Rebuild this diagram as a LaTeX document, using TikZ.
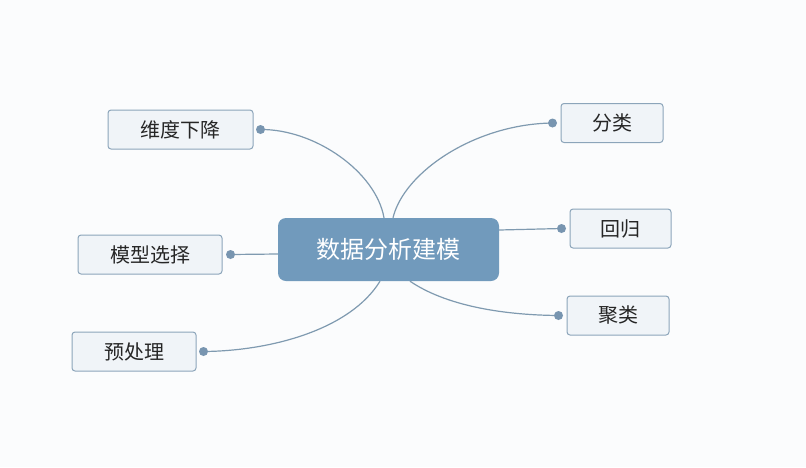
\documentclass[tikz,border=0pt]{standalone}
\usepackage{fontspec}
\newfontfamily\cjk{Noto Sans CJK SC}
\usetikzlibrary{calc}
\definecolor{bgc}{HTML}{FBFCFD}
\definecolor{mainfill}{HTML}{719ABC}
\definecolor{leaffill}{HTML}{F0F4F8}
\definecolor{leafdraw}{HTML}{8CA5BA}
\definecolor{linec}{HTML}{7F9AB0}
\definecolor{dotc}{HTML}{7895B0}
\tikzset{
  mainbox/.style={rectangle, rounded corners=8pt, fill=mainfill, text=white,
    minimum width=221pt, minimum height=63pt, inner sep=0pt, font=\cjk\fontsize{24}{27}\selectfont},
  leafbox/.style={rectangle, rounded corners=3pt, fill=leaffill, draw=leafdraw, line width=1pt,
    minimum height=39pt, inner sep=0pt, text=black!85, font=\cjk\fontsize{20}{23}\selectfont},
  dotnode/.style={circle, fill=dotc, minimum size=9pt, inner sep=0pt},
  conn/.style={draw=linec, line width=1.2pt}
}
\begin{document}
\begin{tikzpicture}[x=1pt,y=-1pt]
\fill[bgc] (0,0) rectangle (806,467);
\useasboundingbox (0,0) rectangle (806,467);

\node[mainbox] (c) at (388.5,249.5) {数据分析建模};

\node[leafbox, minimum width=145pt] (l1) at (180.5,129.5) {维度下降};
\node[leafbox, minimum width=144pt] (l2) at (150,254.5) {模型选择};
\node[leafbox, minimum width=124pt] (l3) at (134,351.5) {预处理};
\node[leafbox, minimum width=102pt] (r1) at (612,123) {分类};
\node[leafbox, minimum width=101pt] (r2) at (620.5,228.5) {回归};
\node[leafbox, minimum width=102pt] (r3) at (618,315.5) {聚类};

\coordinate (t1) at ([xshift=-4.5pt]c.north);
\coordinate (t2) at ([xshift=4.5pt]c.north);
\coordinate (b1) at ([xshift=-8.5pt]c.south);
\coordinate (b2) at ([xshift=21.5pt]c.south);
\coordinate (e1) at ([yshift=19.5pt]c.east);
\coordinate (w1) at ([yshift=-4.5pt]c.west);

\path (l1.east) ++(7,0) coordinate (d1);
\path (l2.east) ++(8,0) coordinate (d2);
\path (l3.east) ++(7,0) coordinate (d3);
\path (r1.west) ++(-8,0) coordinate (d4);
\path (r2.west) ++(-8,0) coordinate (d5);
\path (r3.west) ++(-8,0) coordinate (d6);

\draw[conn] (d1) .. controls (315,129) and (376,172) .. (t1);
\draw[conn] (t2) .. controls (404,172) and (475,124) .. (d4);
\draw[conn] (e1) -- (d5);
\draw[conn] (w1) -- (d2);
\draw[conn] (b1) .. controls (350,330) and (270,351) .. (d3);
\draw[conn] (b2) .. controls (445,305) and (500,315) .. (d6);

\foreach \d in {d1,d2,d3,d4,d5,d6} \node[dotnode] at (\d) {};
\end{tikzpicture}
\end{document}
